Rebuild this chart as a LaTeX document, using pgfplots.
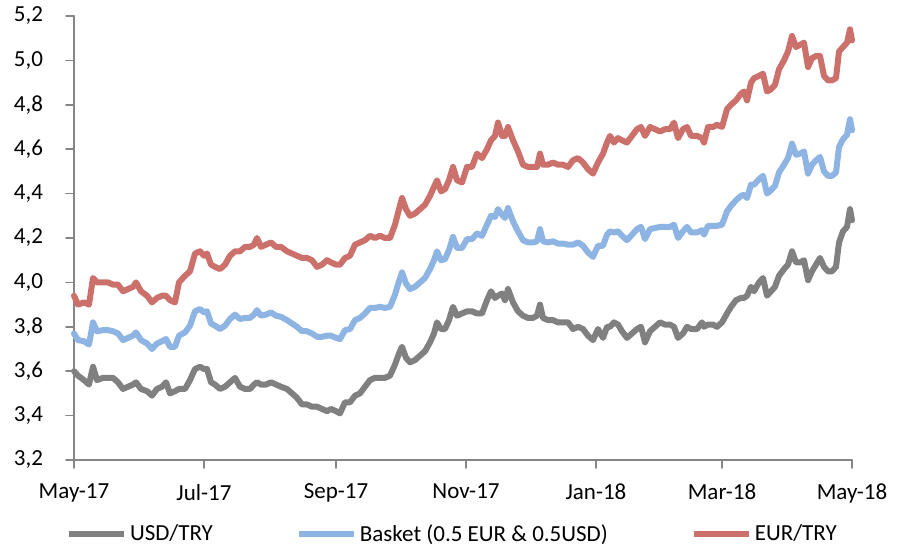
\documentclass[border=0pt]{standalone}
\usepackage{pgfplots}
\pgfplotsset{compat=1.18}
\usepackage{pgfplotstable}
\usepackage{fontspec}
\setmainfont{Carlito}
\definecolor{cgray}{RGB}{128,128,128}
\definecolor{cblue}{RGB}{141,180,226}
\definecolor{cred}{RGB}{204,112,108}
\definecolor{caxis}{RGB}{134,134,134}
% x: position on the time axis (May-17 = 74 ... May-18 = 852), y: USD/TRY, basket, EUR/TRY
\pgfplotstableread{
x usd basket eur
74 3.60 3.770 3.94
78 3.58 3.740 3.90
84 3.56 3.735 3.91
89 3.54 3.720 3.90
93 3.62 3.820 4.02
97 3.56 3.780 4.00
103 3.57 3.785 4.00
108 3.57 3.785 4.00
113 3.57 3.780 3.99
118 3.55 3.770 3.99
123 3.52 3.740 3.96
128 3.53 3.750 3.97
133 3.54 3.760 3.98
136 3.55 3.775 4.00
141 3.52 3.740 3.96
147 3.51 3.725 3.94
152 3.49 3.700 3.91
157 3.52 3.725 3.93
162 3.53 3.735 3.94
166 3.55 3.745 3.94
170 3.50 3.710 3.92
175 3.51 3.710 3.91
179 3.52 3.760 4.00
185 3.52 3.775 4.03
190 3.56 3.805 4.05
195 3.61 3.870 4.13
200 3.62 3.880 4.14
204 3.61 3.865 4.12
207 3.61 3.870 4.13
211 3.55 3.815 4.08
215 3.54 3.805 4.07
220 3.52 3.790 4.06
225 3.53 3.805 4.08
230 3.55 3.835 4.12
235 3.57 3.855 4.14
240 3.53 3.835 4.14
245 3.52 3.840 4.16
250 3.52 3.840 4.16
254 3.54 3.855 4.17
257 3.55 3.875 4.20
261 3.54 3.850 4.16
266 3.54 3.855 4.17
271 3.55 3.865 4.18
276 3.54 3.850 4.16
281 3.53 3.845 4.16
287 3.52 3.830 4.14
292 3.50 3.815 4.13
297 3.48 3.800 4.12
302 3.45 3.780 4.11
307 3.45 3.780 4.11
312 3.44 3.770 4.10
317 3.44 3.755 4.07
322 3.43 3.755 4.08
327 3.42 3.760 4.10
331 3.43 3.760 4.09
336 3.42 3.750 4.08
340 3.41 3.745 4.08
345 3.46 3.785 4.11
350 3.46 3.790 4.12
355 3.49 3.830 4.17
360 3.50 3.840 4.18
365 3.53 3.860 4.19
370 3.56 3.885 4.21
375 3.57 3.885 4.20
380 3.57 3.890 4.21
385 3.57 3.885 4.20
390 3.58 3.890 4.20
395 3.63 3.945 4.26
399 3.68 4.005 4.33
402 3.71 4.045 4.38
406 3.66 3.995 4.33
410 3.64 3.970 4.30
415 3.65 3.980 4.31
420 3.67 4.000 4.33
425 3.69 4.020 4.35
430 3.73 4.060 4.39
434 3.77 4.100 4.43
437 3.82 4.140 4.46
441 3.79 4.100 4.41
445 3.79 4.105 4.42
449 3.83 4.145 4.46
453 3.89 4.205 4.52
457 3.85 4.155 4.46
462 3.86 4.155 4.45
467 3.87 4.195 4.52
472 3.87 4.195 4.52
477 3.86 4.220 4.58
482 3.86 4.210 4.56
487 3.92 4.260 4.60
491 3.96 4.300 4.64
495 3.93 4.295 4.66
498 3.94 4.330 4.72
502 3.95 4.305 4.66
505 3.92 4.290 4.66
508 3.97 4.335 4.70
513 3.91 4.275 4.64
518 3.87 4.230 4.59
523 3.85 4.190 4.53
528 3.84 4.180 4.52
533 3.84 4.180 4.52
537 3.85 4.185 4.52
540 3.90 4.240 4.58
543 3.84 4.185 4.53
548 3.83 4.180 4.53
553 3.83 4.185 4.54
558 3.82 4.175 4.53
563 3.82 4.175 4.53
568 3.82 4.170 4.52
573 3.79 4.170 4.55
578 3.80 4.180 4.56
583 3.79 4.165 4.54
588 3.76 4.135 4.51
593 3.74 4.115 4.49
598 3.79 4.165 4.54
603 3.75 4.165 4.58
607 3.80 4.215 4.63
610 3.80 4.230 4.66
614 3.82 4.225 4.63
618 3.81 4.230 4.65
622 3.78 4.210 4.64
627 3.75 4.190 4.63
632 3.77 4.215 4.66
637 3.79 4.240 4.69
641 3.80 4.250 4.70
645 3.73 4.195 4.66
650 3.78 4.240 4.70
655 3.80 4.245 4.69
660 3.82 4.250 4.68
665 3.81 4.250 4.69
670 3.81 4.250 4.69
674 3.80 4.260 4.72
678 3.75 4.200 4.65
683 3.77 4.230 4.69
687 3.80 4.250 4.70
691 3.79 4.225 4.66
697 3.79 4.225 4.66
702 3.82 4.235 4.65
704 3.80 4.215 4.63
708 3.81 4.255 4.70
713 3.81 4.255 4.70
717 3.80 4.255 4.71
722 3.82 4.260 4.70
727 3.86 4.320 4.78
731 3.89 4.345 4.80
736 3.92 4.370 4.82
741 3.93 4.390 4.85
744 3.93 4.395 4.86
747 3.94 4.380 4.82
751 3.98 4.440 4.90
754 3.96 4.440 4.92
759 4.00 4.465 4.93
763 4.02 4.480 4.94
767 3.94 4.400 4.86
771 3.96 4.415 4.87
775 3.98 4.435 4.89
779 4.03 4.495 4.96
784 4.06 4.530 5.00
788 4.08 4.560 5.04
792 4.14 4.625 5.11
796 4.09 4.575 5.06
800 4.09 4.580 5.07
804 4.10 4.590 5.08
808 4.01 4.490 4.97
812 4.05 4.530 5.01
816 4.08 4.550 5.02
820 4.11 4.565 5.02
824 4.07 4.500 4.93
828 4.05 4.480 4.91
832 4.05 4.480 4.91
836 4.07 4.495 4.92
839 4.18 4.610 5.04
843 4.23 4.645 5.06
847 4.25 4.665 5.08
850 4.33 4.735 5.14
852 4.28 4.685 5.09
}\fx
\begin{document}
\begin{tikzpicture}
\useasboundingbox (0,0) rectangle (451.5bp,272bp);
\begin{axis}[
  at={(37bp,42bp)}, anchor=south west,
  scale only axis, width=389bp, height=222bp,
  xmin=74, xmax=852, ymin=3.2, ymax=5.2,
  axis x line=bottom, axis y line=left,
  axis line style={caxis, line width=0.8bp, -},
  tick style={caxis, line width=0.8bp},
  tick align=outside, major tick length=4bp,
  xtick={74,204,336,466,596,722,852},
  xticklabels={May-17,Jul-17,Sep-17,Nov-17,Jan-18,Mar-18,May-18},
  ytick={3.2,3.4,...,5.21},
  minor tick num=0,
  /pgf/number format/assume math mode=true,
  /pgf/number format/fixed,
  /pgf/number format/fixed zerofill,
  /pgf/number format/precision=1,
  /pgf/number format/use comma,
  every tick label/.append style={font=\fontsize{11.5bp}{13bp}\selectfont, text=black},
  xticklabel style={yshift=-4.5bp},
  yticklabel style={xshift=-8bp},
  clip=false,
  legend style={at={(0.487,-0.167)}, anchor=center, draw=none, fill=none,
    font=\fontsize{11.5bp}{13bp}\selectfont, legend columns=3,
    /tikz/every even column/.append style={column sep=40bp},
    nodes={inner xsep=1.5bp}},
  legend image code/.code={\draw[#1] (0bp,0bp) -- (27.5bp,0bp);},
  line join=round, line cap=round,
]
\addplot[cgray, line width=3bp, no marks] table[x=x, y=usd] {\fx};
\addlegendentry{USD/TRY}
\addplot[cblue, line width=3bp, no marks] table[x=x, y=basket] {\fx};
\addlegendentry{Basket (0.5 EUR \& 0.5USD)}
\addplot[cred, line width=3bp, no marks] table[x=x, y=eur] {\fx};
\addlegendentry{EUR/TRY}
\end{axis}
\end{tikzpicture}
\end{document}
